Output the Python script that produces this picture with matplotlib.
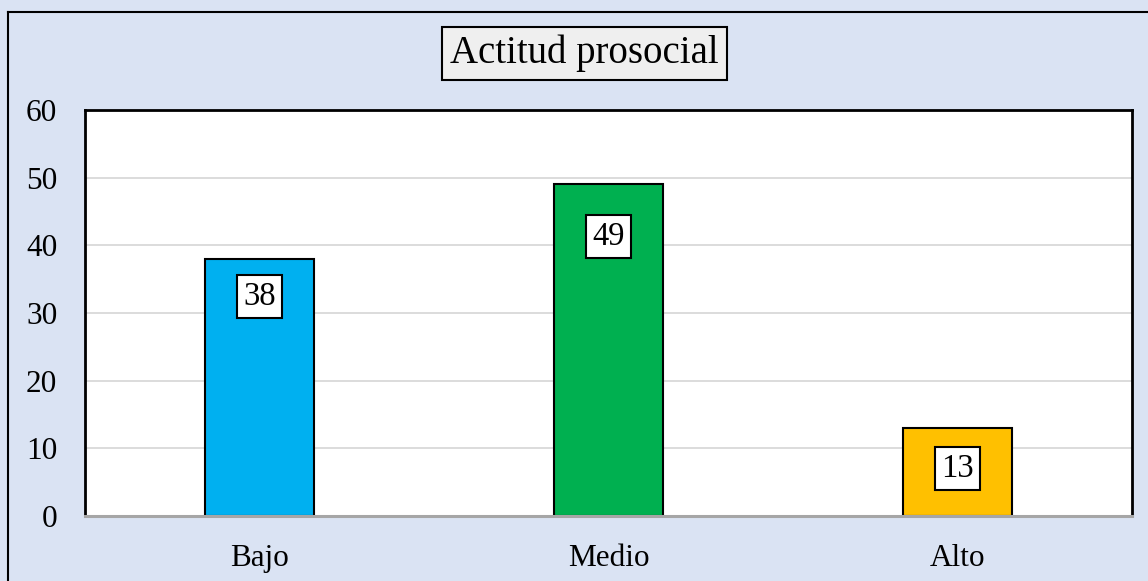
import matplotlib.pyplot as plt
from matplotlib.lines import Line2D

# Datos del gráfico
categorias = ["Bajo", "Medio", "Alto"]
valores = [38, 49, 13]
colores = ["#00b0f0", "#00b050", "#ffc000"]
ticks_y = [0, 10, 20, 30, 40, 50, 60]

# desplazamiento vertical de cada etiqueta (puntos)
desp_etiquetas = [-27, -37.5, -29]

plt.rcParams['font.family'] = ['Liberation Serif', 'DejaVu Serif']

fondo = "#dae3f3"
fig = plt.figure(figsize=(11.48, 5.81), dpi=100, facecolor=fondo)
ax = fig.add_axes([85 / 1148, 1 - 516 / 581, (1132 - 85) / 1148, (516 - 110) / 581])
ax.set_facecolor("white")

x = range(len(categorias))
barras = ax.bar(x, valores, width=0.315, color=colores, edgecolor="black",
                linewidth=1.5, zorder=3)

for i, (b, v) in enumerate(zip(barras, valores)):
    ax.annotate(str(v), (b.get_x() + b.get_width() / 2, v),
                xytext=(0, desp_etiquetas[i]), textcoords="offset points",
                ha="center", va="center", fontsize=23.5, zorder=5,
                bbox=dict(boxstyle="square,pad=0.2", facecolor="white",
                          edgecolor="black", linewidth=1.5))

ax.set_xlim(-0.5, len(categorias) - 0.5)
ax.set_ylim(0, 60)
ax.set_yticks(ticks_y)
ax.set_xticks(list(x))
ax.set_xticklabels(categorias)
ax.tick_params(axis="y", length=0, pad=20, labelsize=22.5)
ax.tick_params(axis="x", length=0, pad=20, labelsize=22.5)
ax.grid(axis="y", color="#d9d9d9", linewidth=1.3, zorder=0)

for lado in ["left", "top", "right"]:
    ax.spines[lado].set_color("black")
    ax.spines[lado].set_linewidth(2)
ax.spines["bottom"].set_color("#a6a6a6")
ax.spines["bottom"].set_linewidth(2.2)
ax.spines["bottom"].set_zorder(4)

# Título con recuadro
fig.text(584.5 / 1148, 1 - 53.5 / 581, "Actitud prosocial", fontsize=28,
         ha="center", va="center",
         bbox=dict(boxstyle="square,pad=0.2", facecolor="#efefef",
                   edgecolor="black", linewidth=1.5))

# Borde exterior (izquierda y arriba)
fig.add_artist(Line2D([8 / 1148, 8 / 1148], [0, 1 - 12 / 581],
                      transform=fig.transFigure, color="black", linewidth=1.5))
fig.add_artist(Line2D([8 / 1148, 1], [1 - 12 / 581, 1 - 12 / 581],
                      transform=fig.transFigure, color="black", linewidth=1.5))

fig.savefig("out.png", dpi=100, facecolor=fondo)
